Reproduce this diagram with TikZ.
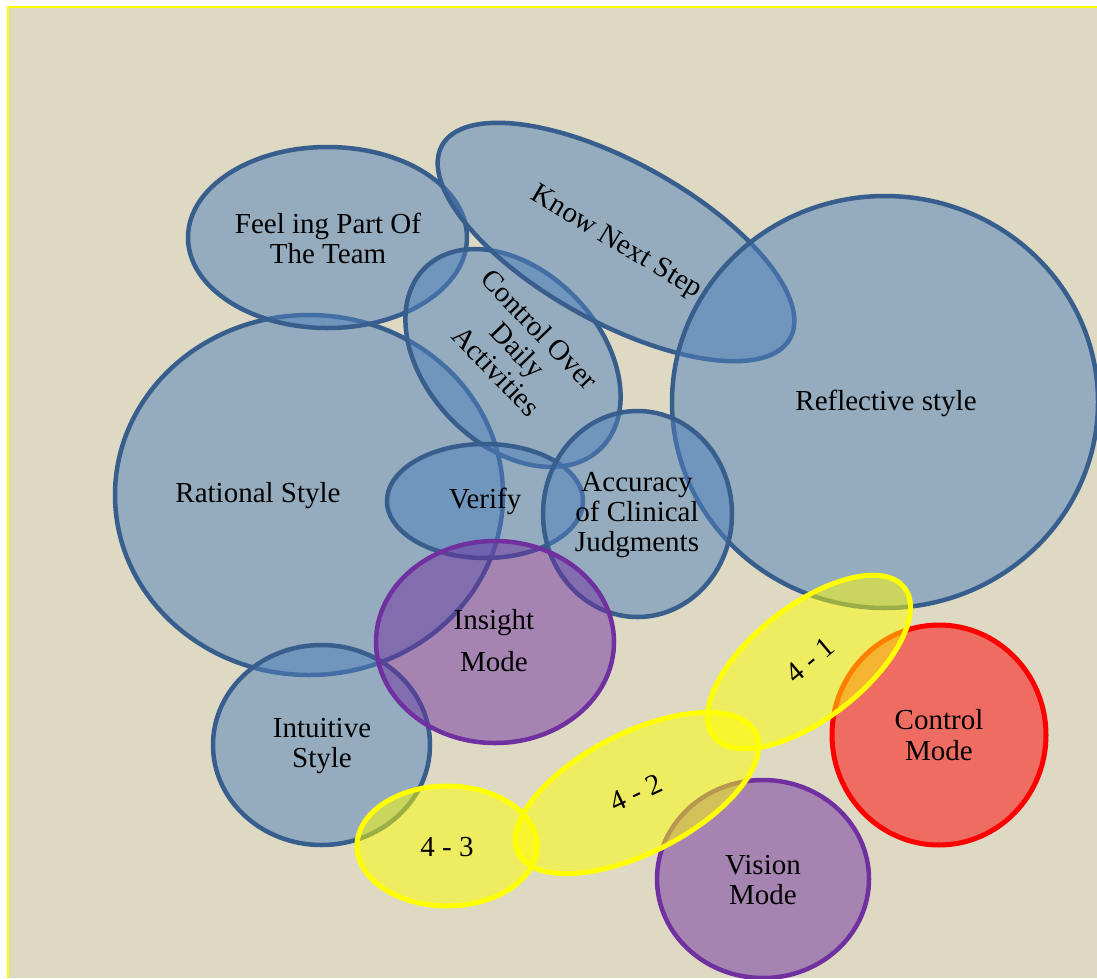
\documentclass[tikz,border=0pt]{standalone}
\usepackage{fontspec}
\setmainfont{Liberation Serif}
\usetikzlibrary{shapes.geometric}

\definecolor{paper}{RGB}{221,217,195}
\definecolor{bluefill}{RGB}{79,129,189}
\definecolor{blueline}{RGB}{56,94,141}
\definecolor{modepurple}{RGB}{112,48,160}
\definecolor{framey}{RGB}{255,255,0}

\tikzset{
  bubble/.style={ellipse, inner sep=0pt, outer sep=0pt, fill opacity=0.5,
    line width=4.5pt},
  bluebub/.style={bubble, draw=blueline, fill=bluefill},
  purplebub/.style={bubble, draw=modepurple, fill=modepurple},
  redbub/.style={bubble, draw=red, fill=red, line width=5pt},
  yellowbub/.style={bubble, draw=framey, fill=framey, line width=5pt},
  tag/.style={inner sep=0pt, align=center, text=black,
    font=\fontsize{29}{30}\selectfont},
}

\begin{document}
\begin{tikzpicture}[x=1pt, y=-1pt]
  \useasboundingbox (0,0) rectangle (1097,978);
  \clip (0,0) rectangle (1097,978);

  % page background and frame
  \fill[paper] (8,7) rectangle (1097,978);
  \draw[framey, line width=2pt] (1097,7) -- (8,7) -- (8,978);

  % bubbles, back to front
  \node[bluebub, minimum width=388, minimum height=360] (rational) at (309,495) {};
  \node[bluebub, minimum width=279, minimum height=181] (feeling) at (327.5,237.5) {};
  \node[bluebub, minimum width=252, minimum height=174, rotate=-46] (daily) at (513,358) {};
  \node[bluebub, minimum width=398, minimum height=160, rotate=-29] (nextstep) at (616,242) {};
  \node[bluebub, minimum width=426, minimum height=412] (reflective) at (885,402) {};
  \node[bluebub, minimum width=196, minimum height=114] (verify) at (485,501) {};
  \node[bluebub, minimum width=189, minimum height=206] (accuracy) at (637.5,514) {};
  \node[bluebub, minimum width=217, minimum height=200] (intuitive) at (321.5,745) {};
  \node[purplebub, minimum width=238, minimum height=202] (insight) at (495,642) {};
  \node[redbub, minimum width=214, minimum height=220] (control) at (939,735) {};
  \node[purplebub, minimum width=212, minimum height=198] (vision) at (763,879) {};
  \node[yellowbub, minimum width=180, minimum height=120] (fourthree) at (447,846) {};
  \node[yellowbub, minimum width=266, minimum height=120, rotate=27] (fourtwo) at (637,793) {};
  \node[yellowbub, minimum width=242, minimum height=113, rotate=38] (fourone) at (809,662) {};

  % labels
  \node[tag] (rationalT) at (258,496) {Rational Style};
  \node[tag] (feelingT) at (328,238) {Feel ing Part Of\\The Team};
  \node[tag, rotate=-31] (nextstepT) at (616,243) {Know Next Step};
  \node[tag, rotate=-46] (dailyT) at (518,350) {Control Over\\Daily\\Activities};
  \node[tag] (reflectiveT) at (886,403) {Reflective style};
  \node[tag] (verifyT) at (485,501) {Verify};
  \node[tag] (accuracyT) at (637,515) {Accuracy\\of Clinical\\Judgments};
  \node[tag, font=\fontsize{29}{42}\selectfont] (insightT) at (494,641) {Insight\\Mode};
  \node[tag] (intuitiveT) at (322,746) {Intuitive\\Style};
  \node[tag, font=\fontsize{29}{31}\selectfont] (controlT) at (939,735) {Control\\Mode};
  \node[tag] (visionT) at (763,880) {Vision\\Mode};
  \node[tag] (fourthreeT) at (447,847) {4 - 3};
  \node[tag, rotate=25] (fourtwoT) at (636,793) {4 - 2};
  \node[tag, rotate=40] (fouroneT) at (810,660) {4 - 1};
\end{tikzpicture}
\end{document}
